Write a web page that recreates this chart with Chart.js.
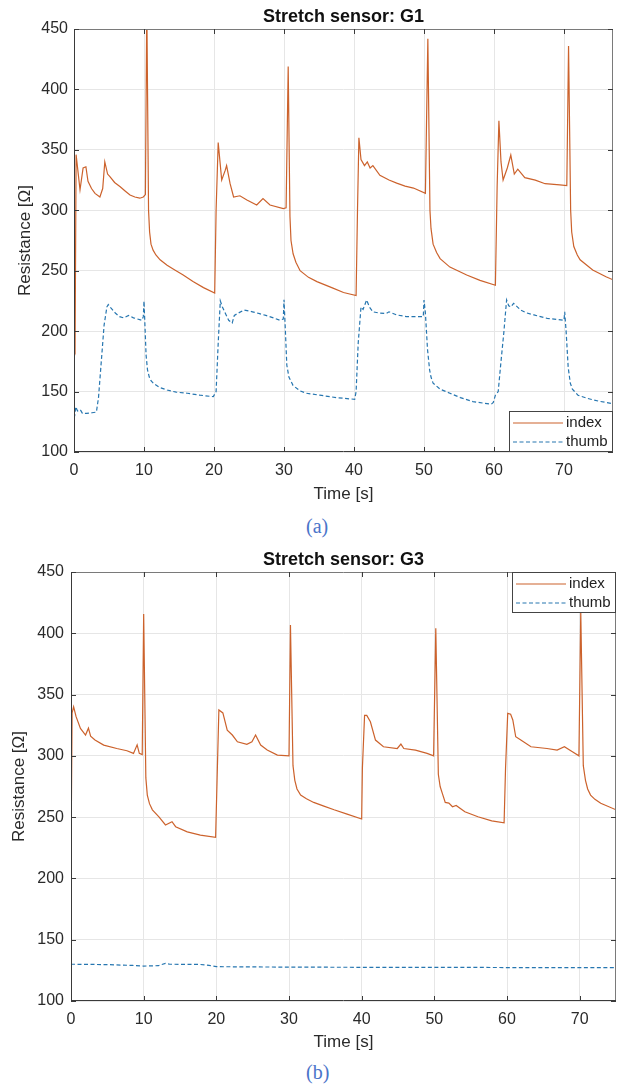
<!DOCTYPE html>
<html>
<head>
<meta charset="utf-8">
<script src="https://cdn.jsdelivr.net/npm/chart.js@4.4.1/dist/chart.umd.min.js"></script>
<style>
  body { margin: 0; background: #fff; }
  #page { position: relative; width: 619px; height: 1085px; overflow: hidden; background: #fff; }
  canvas { position: absolute; left: 0; }
  #g1 { top: 0; }
  #g3 { top: 540px; }
  .cap { position: absolute; left: 306px; font: 20px "Liberation Serif", "Times New Roman", serif; color: #4a74c9; line-height: 24px; }
</style>
</head>
<body>
<div id="page">
  <canvas id="g1" width="619" height="510"></canvas>
  <div class="cap" style="top:514px">(a)</div>
  <canvas id="g3" width="619" height="520"></canvas>
  <div class="cap" style="top:1060px">(b)</div>
</div>
<script>
// G1 glove sensor: index and thumb resistance over time
const g1Time = [0, 0.15, 0.3, 0.86, 1.3, 1.7, 2.0, 2.5, 3.0, 3.7, 4.1, 4.4, 4.8, 5.1, 5.8, 6.6, 7.3, 8.0, 8.7, 9.4, 9.9, 10.2, 10.4, 10.65, 10.8, 11.0, 11.3, 11.7, 12.3, 13.3, 14.4, 15.6, 17.0, 18.5, 20.1,
  20.3, 20.6, 21.1, 21.6, 21.8, 22.3, 22.8, 23.7, 24.7, 26.1, 27.0, 28.0, 29.9, 30.3, 30.6, 30.85, 31.0, 31.3, 31.7, 32.3, 33.5, 34.7, 37.0, 38.5, 40.3,
  40.5, 40.7, 41.0, 41.5, 41.9, 42.3, 42.7, 43.7, 45.0, 46.1, 47.3, 48.5, 50.2, 50.55, 50.85, 51.0, 51.3, 51.8, 52.3, 53.7, 56.1, 58.0, 60.2,
  60.45, 60.7, 61.0, 61.3, 61.9, 62.4, 62.9, 63.4, 64.4, 65.9, 67.3, 69.4, 70.4, 70.65, 70.95, 71.1, 71.4, 71.9, 72.3, 74.1, 76.0, 77.0];
const g1Index = [186, 183, 346, 317, 335, 336, 324, 318, 314, 311, 318, 340, 330, 328, 323, 319.5, 316, 312.6, 311, 310, 311, 313, 470, 300, 282, 272, 267, 263, 259, 254.5, 250.6, 246.5, 241, 236, 231.5,
  300, 356, 325, 333, 337, 322, 311, 312, 308.5, 304.4, 309.7, 304.4, 301.4, 302, 419, 295, 275, 264, 257, 250, 244.5, 241, 235.6, 232, 229.5,
  300, 360, 342, 337, 340, 335, 337, 329, 325, 322.5, 320, 318.4, 314, 442, 300, 285, 272, 265, 260, 253, 246.4, 242, 238,
  320, 374, 340, 325, 335, 345.7, 330, 334, 327, 325, 322, 321, 320.5, 436, 300, 282, 270, 263, 259, 250.6, 245, 242.5];
const g1ThumbTime = [0, 0.1, 0.25, 0.5, 0.9, 1.2, 1.8, 2.6, 3.2, 3.5, 3.9, 4.3, 4.7, 4.9, 5.3, 5.9, 6.5, 7.1, 7.8, 8.5, 9.7, 9.9, 10.0, 10.1, 10.3, 10.5, 10.75, 11.0, 11.4, 12.2, 13.3, 14.6, 16.2, 18.0, 19.9,
  20.3, 20.6, 20.9, 21.2, 21.6, 22.1, 22.6, 22.9, 23.5, 24.3, 25.5, 26.5, 27.4, 28.5, 29.4, 29.9, 30.0, 30.2, 30.4, 30.7, 31.3, 32.3, 33.2, 35.1, 37.5, 40.1,
  40.3, 40.6, 41.0, 41.3, 41.8, 42.2, 42.7, 43.6, 44.6, 45.0, 46.1, 47.5, 49.4, 49.9, 50.0, 50.2, 50.5, 50.8, 51.0, 51.3, 52.3, 53.7, 55.2, 57.0, 59.6,
  59.9, 60.2, 60.6, 61.0, 61.4, 61.8, 62.1, 62.4, 62.8, 63.8, 64.7, 65.7, 67.6, 70.0, 70.1, 70.3, 70.6, 70.9, 71.2, 72.0, 73.3, 75.0, 77.0];
const g1Thumb = [128, 130, 137.5, 134, 135, 132, 132, 132.5, 133, 145, 175, 205, 220, 222, 219, 215, 212, 211, 213, 211, 209, 212, 225, 210, 180, 168, 162, 159, 156.5, 153.5, 151.3, 149.5, 148.6, 147, 145.8,
  150, 190, 225, 220, 215, 209, 206.7, 213, 215, 217.5, 216, 214.5, 213, 211, 209, 210, 226, 200, 172, 162, 155, 150.5, 148.6, 147, 145, 143.6,
  150, 190, 220, 218, 225.8, 220, 216, 215, 214.6, 216, 213.4, 212, 212, 212, 225.8, 215, 185, 168, 162, 157, 152, 148.6, 145, 141.7, 139.5,
  141, 147, 150, 175, 198.6, 225.8, 221, 220, 223, 217.5, 215, 213.4, 210.6, 209, 216, 200, 170, 157, 152, 147, 144.4, 142, 140];

// G3 glove sensor
const g3Time = [0, 0.15, 0.36, 0.7, 1.3, 2.0, 2.4, 2.7, 3.3, 4.5, 6.3, 7.7, 8.6, 9.1, 9.4, 9.8, 10.0, 10.3, 10.5, 10.8, 11.2, 12.1, 13.0, 13.9, 14.4, 16.0, 17.8, 19.9,
  20.1, 20.35, 20.9, 21.5, 22.2, 22.9, 24.2, 24.9, 25.4, 26.1, 27.0, 28.4, 30.0, 30.2, 30.55, 30.8, 31.1, 31.6, 32.4, 33.4, 34.8, 36.2, 38.0, 40.0,
  40.1, 40.4, 40.7, 41.2, 41.9, 43.0, 44.9, 45.4, 45.8, 47.4, 49.0, 49.9, 50.2, 50.55, 50.8, 51.1, 51.5, 52.0, 52.5, 53.0, 54.2, 56.0, 57.9, 59.6,
  59.8, 60.1, 60.5, 60.8, 61.2, 61.9, 63.3, 65.5, 66.9, 67.9, 69.0, 69.9, 70.15, 70.5, 70.8, 71.1, 71.5, 72.1, 72.9, 75.0];
const g3Index = [215, 335, 340, 332, 322.4, 317, 322.6, 316, 313, 308.8, 306, 304.2, 302, 309, 302, 301, 415.7, 282, 268, 261, 256, 250.3, 243.6, 246.3, 242.2, 238, 235.4, 233.5,
  280, 337.4, 335, 321, 317, 311.5, 309.4, 311.5, 317, 308.8, 304.7, 300.6, 300, 406.7, 292, 280, 273, 268, 265, 262, 259, 256, 252.5, 248.5,
  290, 333, 333, 327.8, 312.9, 307.4, 306, 309.6, 306, 304.7, 302, 300, 404, 285, 275, 269.4, 262, 261.5, 258.5, 259.5, 254.4, 250.3, 247, 245.4,
  290, 334.7, 334, 329.3, 315.6, 313, 307.4, 306, 304.7, 307.4, 303.4, 300, 418, 292, 280, 273, 268, 264.5, 261.3, 256];
const g3ThumbTime = [0, 5, 8.5, 10, 12, 13, 13.6, 17.8, 19, 20, 25, 31.6, 40, 50, 60, 75];
const g3Thumb = [130, 129.7, 129, 128.5, 128.8, 130.7, 130, 129.8, 129, 128, 127.8, 127.6, 127.5, 127.5, 127.3, 127.3];

const indexColor = 'rgb(204, 98, 44)';
const thumbColor = 'rgb(38, 118, 176)';
const sans = '"Liberation Sans", Arial, Helvetica, sans-serif';

const pts = (xs, ys) => xs.map((x, i) => ({ x, y: ys[i] }));

// MATLAB-style box: frame on all four sides with inward tick marks
const framePlugin = {
  id: 'frame',
  afterDatasetsDraw(chart) {
    const { ctx, chartArea: a, scales: { x, y } } = chart;
    ctx.save();
    ctx.lineWidth = 1;
    ctx.strokeStyle = '#7a7a7a';
    ctx.beginPath();
    ctx.moveTo(a.left, a.top + 0.5); ctx.lineTo(a.right, a.top + 0.5);
    ctx.moveTo(a.right - 0.5, a.top); ctx.lineTo(a.right - 0.5, a.bottom);
    ctx.stroke();
    ctx.strokeStyle = '#3a3a3a';
    ctx.beginPath();
    ctx.moveTo(a.left + 0.5, a.top); ctx.lineTo(a.left + 0.5, a.bottom);
    ctx.moveTo(a.left, a.bottom - 0.5); ctx.lineTo(a.right, a.bottom - 0.5);
    x.ticks.forEach(t => {
      const px = Math.round(x.getPixelForValue(t.value)) + 0.5;
      ctx.moveTo(px, a.bottom); ctx.lineTo(px, a.bottom - 5);
      ctx.moveTo(px, a.top); ctx.lineTo(px, a.top + 5);
    });
    y.ticks.forEach(t => {
      const py = Math.round(y.getPixelForValue(t.value)) + 0.5;
      ctx.moveTo(a.left, py); ctx.lineTo(a.left + 5, py);
      ctx.moveTo(a.right, py); ctx.lineTo(a.right - 5, py);
    });
    ctx.stroke();
    ctx.restore();
  },
  afterDraw(chart, args, opts) {
    const { ctx, chartArea: a } = chart;
    ctx.save();
    // title centred over the plot area
    ctx.font = 'bold 18px ' + sans;
    ctx.fillStyle = '#111';
    ctx.textAlign = 'center';
    ctx.textBaseline = 'middle';
    ctx.fillText(opts.title, (a.left + a.right) / 2, opts.titleY);

    // legend box in a corner of the plot
    const w = 104, h = 41;
    const bx = a.right - w;
    const by = opts.corner === 'top' ? a.top : a.bottom - h;
    ctx.fillStyle = '#fff';
    ctx.fillRect(bx, by, w, h);
    ctx.strokeStyle = '#444';
    ctx.lineWidth = 1;
    ctx.strokeRect(bx + 0.5, by + 0.5, w - 1, h - 1);
    ctx.font = '15px ' + sans;
    ctx.textAlign = 'left';
    chart.data.datasets.forEach((ds, i) => {
      const ry = by + 12 + i * 19;
      ctx.strokeStyle = ds.borderColor;
      ctx.lineWidth = 1.2;
      ctx.setLineDash(ds.borderDash || []);
      ctx.beginPath();
      ctx.moveTo(bx + 4, ry); ctx.lineTo(bx + 54, ry);
      ctx.stroke();
      ctx.setLineDash([]);
      ctx.fillStyle = '#222';
      ctx.fillText(ds.label, bx + 57, ry);
    });
    ctx.restore();
  }
};

function makeChart(id, s) {
  return new Chart(document.getElementById(id), {
    type: 'line',
    data: {
      datasets: [
        { label: 'index', data: pts(s.time, s.index), borderColor: indexColor, borderWidth: 1.2, pointRadius: 0, tension: 0 },
        { label: 'thumb', data: pts(s.thumbTime, s.thumb), borderColor: thumbColor, borderWidth: 1.2, borderDash: [4, 2.5], pointRadius: 0, tension: 0 }
      ]
    },
    options: {
      responsive: false,
      animation: false,
      events: [],
      layout: { padding: { top: s.top, right: s.right } },
      plugins: {
        legend: { display: false },
        tooltip: { enabled: false },
        frame: { title: s.title, titleY: s.titleY, corner: s.corner }
      },
      scales: {
        x: {
          type: 'linear', min: 0, max: s.xMax,
          ticks: { stepSize: 10, includeBounds: false, padding: 9, color: '#2a2a2a', font: { family: sans, size: 16 } },
          grid: { color: '#e6e6e6', drawTicks: false },
          border: { display: false },
          title: { display: true, text: 'Time [s]', color: '#2a2a2a', font: { family: sans, size: 17 }, padding: { top: 0, bottom: s.xTitlePad } },
          afterFit: sc => { sc.height = s.xHeight; }
        },
        y: {
          min: 100, max: 450,
          ticks: { stepSize: 50, padding: s.yTickPad, color: '#2a2a2a', font: { family: sans, size: 16 } },
          grid: { color: '#e6e6e6', drawTicks: false },
          border: { display: false },
          title: { display: true, text: 'Resistance [Ω]', color: '#2a2a2a', font: { family: sans, size: 17 }, padding: { top: s.yTitlePad, bottom: 0 } },
          afterFit: sc => { sc.width = s.yWidth; }
        }
      }
    },
    plugins: [framePlugin]
  });
}

makeChart('g1', {
  time: g1Time, index: g1Index, thumbTime: g1ThumbTime, thumb: g1Thumb,
  title: 'Stretch sensor: G1', titleY: 17.5, corner: 'bottom',
  xMax: 77, top: 29, right: 6, xHeight: 58, yWidth: 74,
  xTitlePad: 5, yTitlePad: 15, yTickPad: 6
});

makeChart('g3', {
  time: g3Time, index: g3Index, thumbTime: g3ThumbTime, thumb: g3Thumb,
  title: 'Stretch sensor: G3', titleY: 20, corner: 'top',
  xMax: 75, top: 32, right: 3, xHeight: 59, yWidth: 71,
  xTitlePad: 7, yTitlePad: 9.5, yTickPad: 7
});
</script>
</body>
</html>
